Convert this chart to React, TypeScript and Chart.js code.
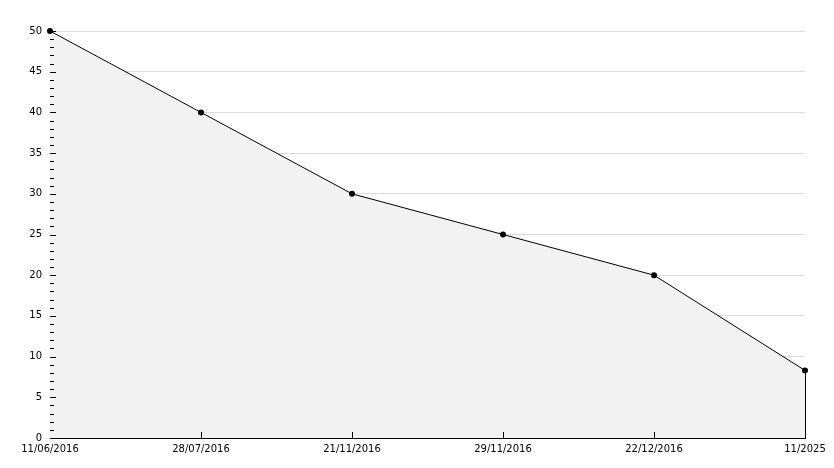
import React, { useEffect, useRef } from "react";
import { Chart, registerables } from "chart.js";

Chart.register(...registerables);

const dateLabels = ["11/06/2016", "28/07/2016", "21/11/2016", "29/11/2016", "22/12/2016", "11/2025"];
const remainingValues = [50, 40, 30, 25, 20, 8.3];
const yMin = 0;
const yMax = 50;
const yMajorStep = 5;
const yMinorStep = 1;

const axisTicksPlugin = {
  id: "axisTicks",
  beforeDatasetsDraw(chart: any) {
    const { ctx, chartArea, scales } = chart;
    const y = scales.y;
    const x = scales.x;
    ctx.save();
    ctx.strokeStyle = "#000";
    ctx.lineWidth = 1;
    ctx.beginPath();
    const last = remainingValues.length - 1;
    const lx = Math.round(x.getPixelForValue(last)) + 0.5;
    ctx.moveTo(lx, y.getPixelForValue(remainingValues[last]));
    ctx.lineTo(lx, chartArea.bottom);
    ctx.stroke();
    ctx.restore();
  },
  afterDatasetsDraw(chart: any) {
    const { ctx, chartArea, scales } = chart;
    const y = scales.y;
    const x = scales.x;
    ctx.save();
    ctx.strokeStyle = "#000";
    ctx.lineWidth = 1;
    ctx.beginPath();
    for (let v = yMin; v <= yMax; v += yMinorStep) {
      const py = Math.round(y.getPixelForValue(v)) + 0.5;
      const len = v % yMajorStep === 0 ? 6 : 4;
      ctx.moveTo(chartArea.left, py);
      ctx.lineTo(chartArea.left + len, py);
    }
    for (let i = 1; i < dateLabels.length - 1; i++) {
      const px = Math.round(x.getPixelForValue(i)) + 0.5;
      ctx.moveTo(px, chartArea.bottom);
      ctx.lineTo(px, chartArea.bottom - 6);
    }
    ctx.stroke();
    ctx.restore();
  },
};

export default function App() {
  const ref = useRef<HTMLCanvasElement>(null);
  useEffect(() => {
    document.body.style.margin = "0";
    const chart = new Chart(ref.current!, {
      type: "line",
      data: {
        labels: dateLabels,
        datasets: [
          {
            data: remainingValues,
            borderColor: "#000",
            borderWidth: 1,
            backgroundColor: "#f2f2f2",
            fill: "origin",
            tension: 0,
            clip: false,
            pointRadius: 3,
            pointBackgroundColor: "#000",
            pointBorderColor: "#000",
            pointBorderWidth: 0,
          },
        ],
      },
      options: {
        responsive: false,
        animation: false,
        events: [],
        layout: { padding: { top: 31, right: 29, left: 0, bottom: 0 } },
        plugins: { legend: { display: false }, tooltip: { enabled: false } },
        scales: {
          x: {
            type: "category",
            offset: false,
            grid: { display: false, drawTicks: false },
            border: { color: "#000", width: 1 },
            ticks: {
              color: "#000",
              font: { family: "DejaVu Sans", size: 10 },
              padding: 5,
              maxRotation: 0,
              autoSkip: false,
            },
            afterFit: (s: any) => {
              s.height = 30;
            },
          },
          y: {
            min: yMin,
            max: yMax,
            grid: { color: "#dddddd", drawTicks: false },
            border: { color: "#000", width: 1 },
            ticks: {
              stepSize: yMajorStep,
              color: "#000",
              font: { family: "DejaVu Sans", size: 10 },
              padding: 8,
            },
            afterFit: (s: any) => {
              s.width = 50;
            },
          },
        },
      },
      plugins: [axisTicksPlugin],
    });
    return () => chart.destroy();
  }, []);
  return (
    <div style={{ width: 834, height: 468, background: "#fff" }}>
      <canvas ref={ref} width={834} height={468} style={{ display: "block" }} />
    </div>
  );
}
